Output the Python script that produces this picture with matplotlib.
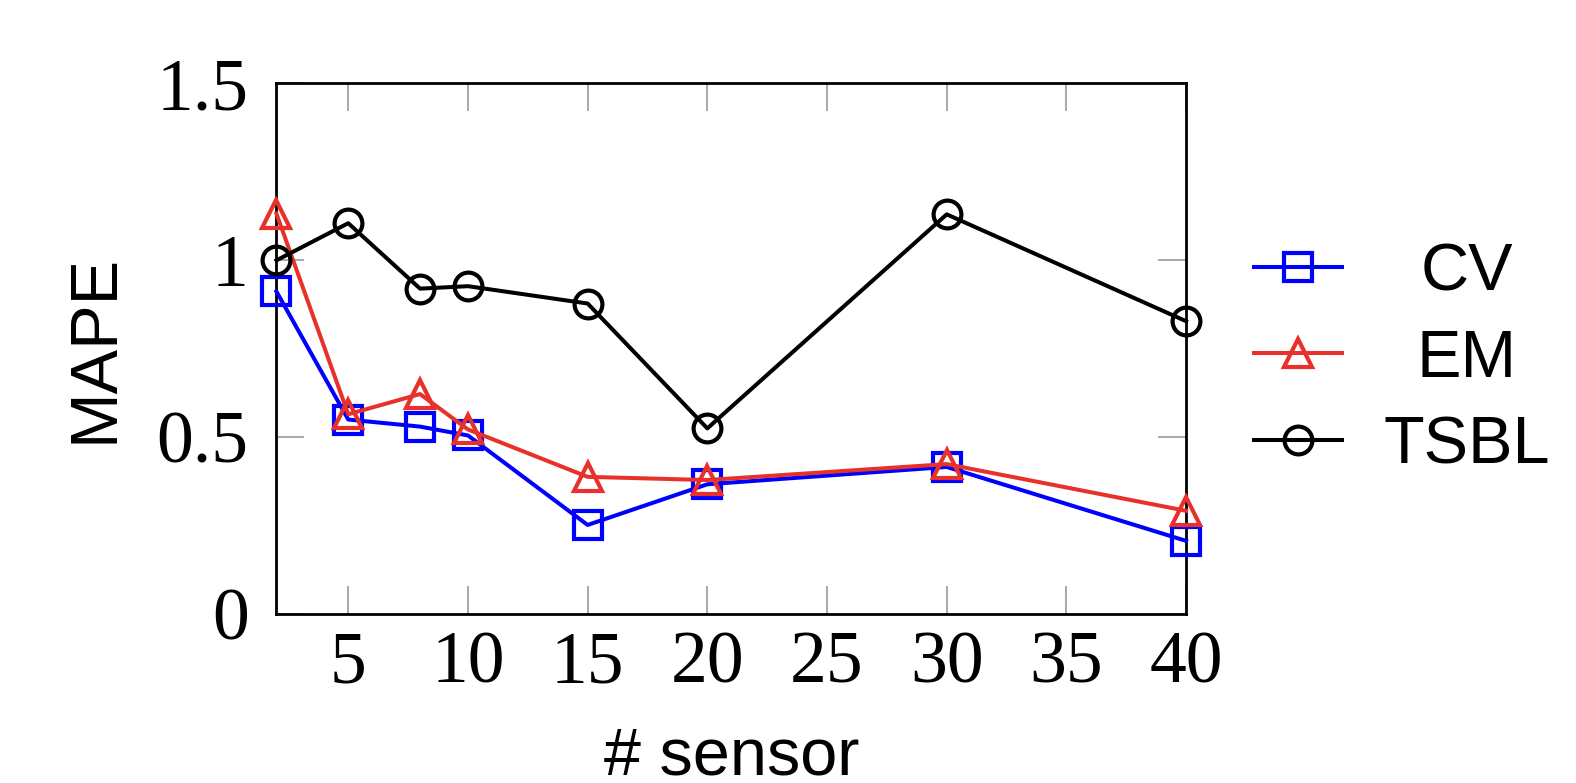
import matplotlib
matplotlib.use("Agg")
import matplotlib.pyplot as plt

sensors = [2, 5, 8, 10, 15, 20, 30, 40]
cv = [0.912, 0.550, 0.530, 0.505, 0.252, 0.367, 0.416, 0.207]
em = [1.132, 0.565, 0.622, 0.522, 0.388, 0.379, 0.424, 0.292]
tsbl = [1.0, 1.105, 0.920, 0.927, 0.878, 0.525, 1.130, 0.828]

names = ["CV", "EM", "TSBL"]
xticks = [5, 10, 15, 20, 25, 30, 35, 40]
yticks = [0, 0.5, 1, 1.5]
yticklabels = ["0", "0.5", "1", "1.5"]

fig = plt.figure(figsize=(15.76, 7.83), dpi=100)
ax = fig.add_axes([0.1754, 0.2157, 0.5772, 0.6777])

style = dict(lw=2.9, mfc="none", mew=3.0, clip_on=False, zorder=3)
l1, = ax.plot(sensors, cv, color="#0000ff", marker="s", ms=20, **style)
l2, = ax.plot(sensors, em, color="#e8312a", marker="^", ms=20, **style)
l3, = ax.plot(sensors, tsbl, color="black", marker="o", ms=20, **style)

ax.set_xlim(2, 40)
ax.set_ylim(0, 1.5)
ax.set_xticks(xticks)
ax.set_yticks(yticks)
ax.set_yticklabels(yticklabels)

ax.tick_params(direction="in", length=20, width=1.2, color="#999999",
               top=True, right=True, labelsize=53)
ax.tick_params(axis="x", pad=12)
ax.tick_params(axis="y", pad=20)
for lab in ax.get_xticklabels() + ax.get_yticklabels():
    lab.set_family("Liberation Serif")
for sp in ax.spines.values():
    sp.set_linewidth(2)

ax.set_xlabel("# sensor", fontsize=48, family="Liberation Sans", labelpad=20)
ax.set_ylabel("MAPE", fontsize=48, family="Liberation Sans", labelpad=22)

# legend handles only; labels are centred separately like the original
fs = 12
leg = ax.legend([l1, l2, l3], ["", "", ""], loc="center left",
                bbox_to_anchor=(1254 / 1576, 1 - 354 / 783),
                bbox_transform=fig.transFigure, frameon=False,
                prop={"size": fs}, borderpad=0, borderaxespad=0,
                handlelength=88 / (fs * 100 / 72), handletextpad=0,
                labelspacing=(88 - 1.17 * fs * 100 / 72) / (fs * 100 / 72))

fig.canvas.draw()
inv = fig.transFigure.inverted()
for line, name in zip(leg.get_lines(), names):
    bb = line.get_window_extent(fig.canvas.get_renderer())
    yc = (bb.y0 + bb.y1) / 2
    x_fig, y_fig = inv.transform((1467 / 1576 * fig.bbox.width, yc))
    fig.text(x_fig, y_fig, name, fontsize=48, family="Liberation Sans",
             ha="center", va="center_baseline")

fig.savefig("out.png", dpi=100)
